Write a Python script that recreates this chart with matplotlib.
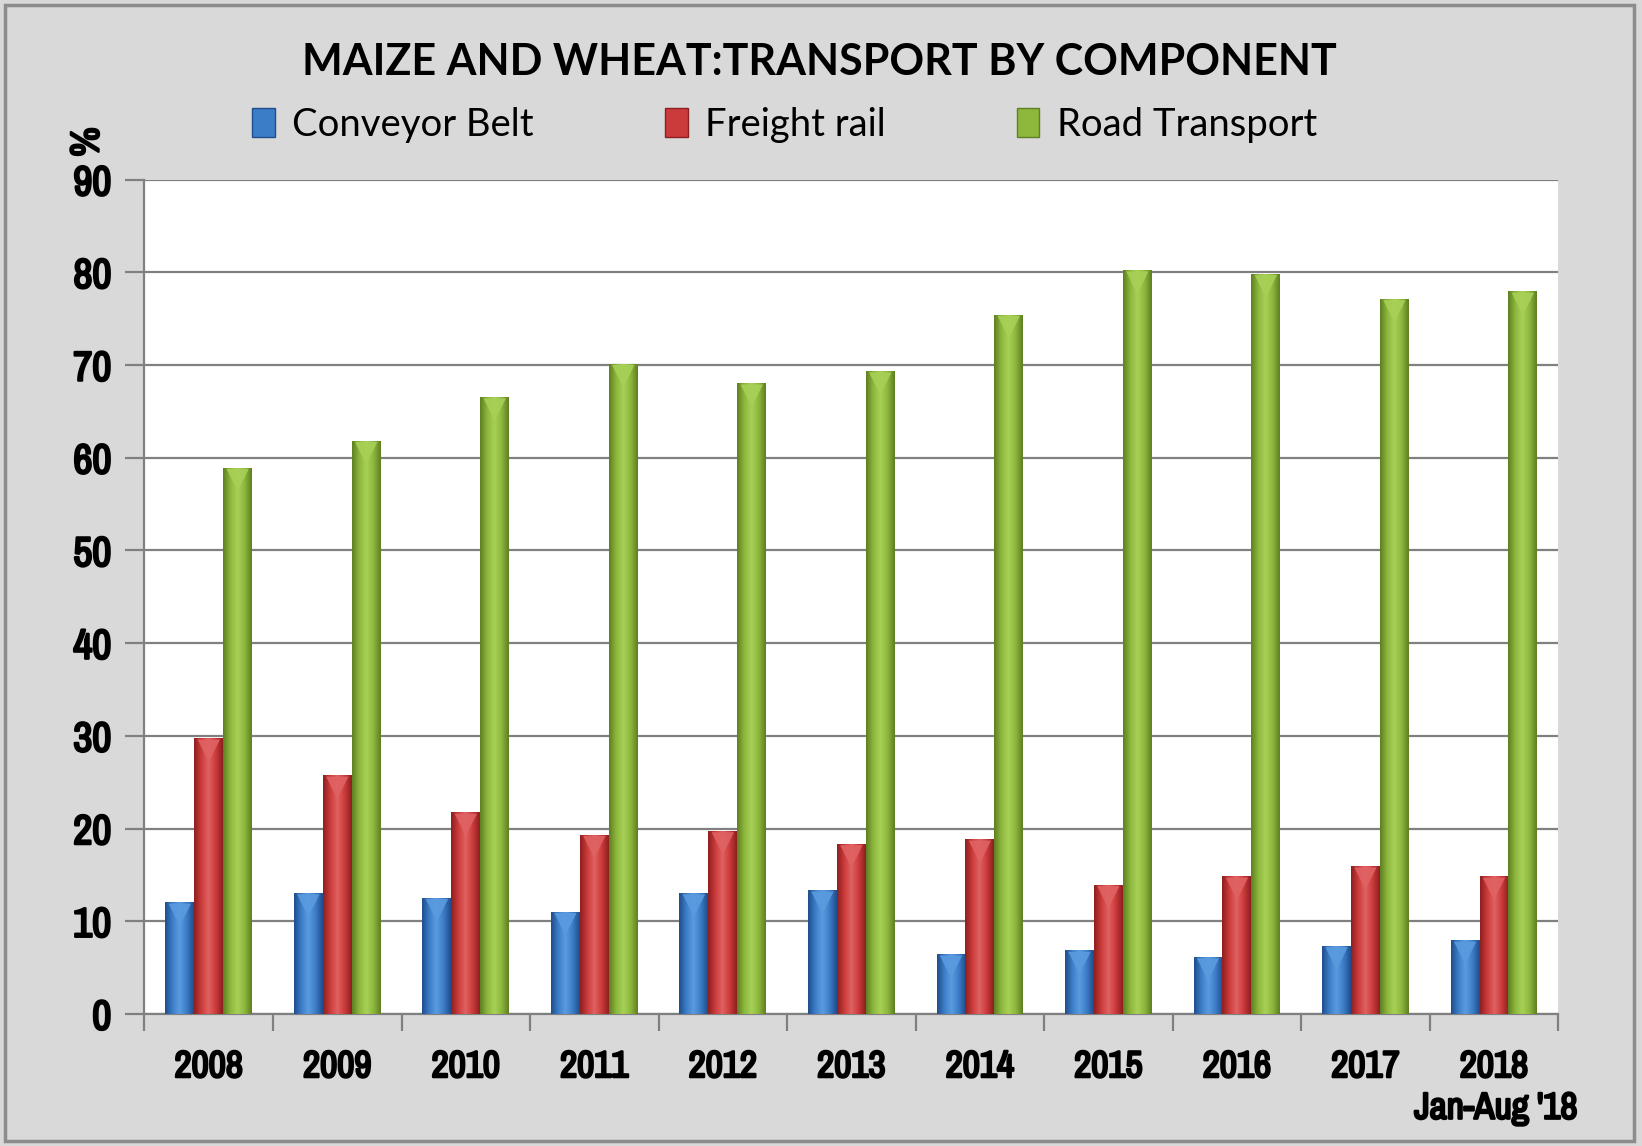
import numpy as np
import matplotlib
matplotlib.use('Agg')
import matplotlib.pyplot as plt
import matplotlib.patheffects as pe
from matplotlib.patches import Patch, Rectangle
from matplotlib.colors import LinearSegmentedColormap

years = ['2008', '2009', '2010', '2011', '2012', '2013', '2014', '2015', '2016', '2017', '2018']
conveyor = [12.0, 13.0, 12.5, 11.0, 13.0, 13.3, 6.4, 6.8, 6.1, 7.3, 7.9]
freight = [29.7, 25.7, 21.7, 19.3, 19.7, 18.3, 18.8, 13.9, 14.8, 15.9, 14.8]
road = [58.9, 61.8, 66.5, 70.1, 68.0, 69.3, 75.4, 80.2, 79.8, 77.1, 77.9]

series_names = ['Conveyor Belt', 'Freight rail', 'Road Transport']
# (dark edge, mid, light) colours for the shaded bars
shades = [('#1F4E8C', '#3C7DC8', '#5A9BE0'),
          ('#8E1F20', '#CC3B3B', '#E06262'),
          ('#5E7F22', '#8DB83C', '#A8D057')]

narrow = ['Archivo Narrow', 'Liberation Sans', 'DejaVu Sans']
# the narrow face only has a regular weight, so thicken it with a stroke
bold_fx = [pe.withStroke(linewidth=1.7, foreground='black')]

fig = plt.figure(figsize=(16.42, 11.46), dpi=100)
fig.patch.set_facecolor('#D9D9D9')
fig.patches.append(Rectangle((0.003, 0.004), 0.992, 0.992, transform=fig.transFigure,
                             fill=False, edgecolor='#8C8C8C', linewidth=2.5))

ax = fig.add_axes([0.088, 0.1152, 0.861, 0.728])
ax.set_facecolor('white')

x = np.arange(len(years))
w = 0.225
for i, vals in enumerate([conveyor, freight, road]):
    dark, mid, light = shades[i]
    cmap = LinearSegmentedColormap.from_list('s%d' % i, [dark, mid, light, mid, dark])
    grad = np.linspace(0, 1, 64).reshape(1, -1)
    bars = ax.bar(x + (i - 1) * w, vals, w, color=mid, edgecolor='none', zorder=2)
    for b in bars:
        bx, bw, bh = b.get_x(), b.get_width(), b.get_height()
        ax.imshow(grad, cmap=cmap, aspect='auto', extent=[bx, bx + bw, 0, bh],
                  zorder=3, interpolation='bicubic')
        ax.scatter(bx + bw / 2, bh - 1.3, marker='v', s=260, color=light,
                   edgecolor='none', alpha=0.9, zorder=4)

ax.set_xlim(-0.5, len(years) - 0.5)
ax.set_ylim(0, 90)
ax.set_yticks(np.arange(0, 91, 10))
ax.yaxis.grid(True, color='#808080', linewidth=1.6, zorder=1)
ax.set_axisbelow(True)

for s in ['top', 'right']:
    ax.spines[s].set_visible(False)
ax.spines['left'].set_color('#808080')
ax.spines['left'].set_linewidth(1.6)
ax.spines['bottom'].set_color('#808080')
ax.spines['bottom'].set_linewidth(1.6)

ax.set_xticks(np.arange(-0.5, len(years), 1.0), minor=False)
ax.set_xticklabels([])
ax.set_xticks(x, minor=True)
ax.set_xticklabels(years, minor=True)
ax.tick_params(axis='x', which='major', length=12, width=1.6, color='#808080', direction='out')
ax.tick_params(axis='x', which='minor', length=0, pad=26)
ax.tick_params(axis='y', length=14, width=1.6, color='#808080', pad=10)

for lab in ax.get_xticklabels(minor=True):
    lab.set_family(narrow)
    lab.set_fontsize(27)
    lab.set_path_effects(bold_fx)
for lab in ax.get_yticklabels():
    lab.set_family(narrow)
    lab.set_fontsize(30)
    lab.set_path_effects(bold_fx)

fig.text(0.499, 0.946, 'MAIZE AND WHEAT:TRANSPORT BY COMPONENT', ha='center', va='center',
         fontsize=31, fontweight='bold', family=['Lato', 'DejaVu Sans'])
fig.text(0.053, 0.876, '%', rotation=90, ha='center', va='center',
         fontsize=29, family=narrow, path_effects=bold_fx)
fig.text(0.911, 0.033, "Jan-Aug '18", ha='center', va='center',
         fontsize=27, family=narrow, path_effects=bold_fx)

handles = [Patch(facecolor=shades[i][1], edgecolor=shades[i][0]) for i in range(3)]
fig.legend(handles, series_names, ncol=3, loc='center', bbox_to_anchor=(0.4777, 0.891),
           frameon=False, prop={'family': 'Lato', 'size': 27.5}, handlelength=0.6,
           handleheight=0.8, handletextpad=0.45, columnspacing=3.43)

fig.savefig('out.png', dpi=100, facecolor=fig.get_facecolor())
